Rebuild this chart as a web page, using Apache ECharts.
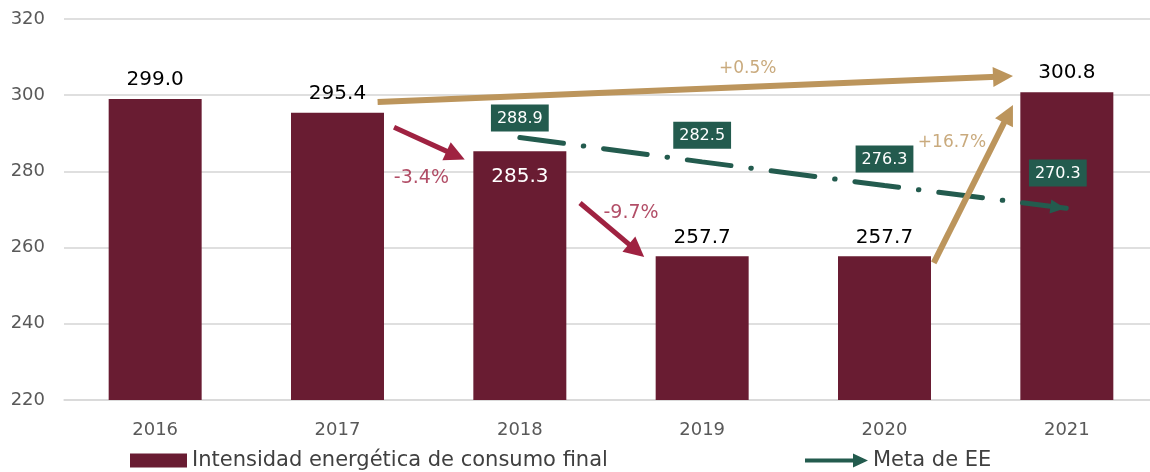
<!DOCTYPE html>
<html>
<head>
<meta charset="utf-8">
<script src="https://cdn.jsdelivr.net/npm/echarts@6/dist/echarts.min.js"></script>
<style>
  html, body { margin: 0; padding: 0; background: #fff; overflow: hidden; }
  /* the plot runs a few pixels past the right edge of the page */
  #chart { width: 1158px; height: 472px; }
</style>
</head>
<body>
<div id="chart"></div>
<script>
// Años y valores
const years = ['2016', '2017', '2018', '2019', '2020', '2021'];
const intensidad = [299.0, 295.4, 285.3, 257.7, 257.7, 300.8];
const metaEE = [null, null, 288.9, 282.5, 276.3, 270.3];

// Eje vertical
const yMin = 220;
const yMax = 320;
const yStep = 20;

// Flechas de variación: [posición de año, valor] de inicio y fin (centro de la punta)
const flechas = [
  { from: [1.31, 291.6], to: [1.648, 284.2] },
  { from: [2.33, 271.7], to: [2.64, 259.2] },
  { from: [1.22, 298.2], to: [4.65, 304.9] },
  { from: [4.27, 256.0], to: [4.68, 295.1] }
];
// Textos de variación: [posición de año, valor, texto]
const variaciones = [
  [1.46, 278.3, '-3.4%'],
  [2.61, 269.1, '-9.7%'],
  [3.25, 307.1, '+0.5%'],
  [4.37, 287.5, '+16.7%']
];

const GUINDA_OSC = '#691C32';
const GUINDA = '#9F2241';
const DORADO = '#BC955C';
const VERDE = '#235B4E';
const FONT = 'DejaVu Sans';

const chart = echarts.init(document.getElementById('chart'), null, { renderer: 'canvas' });

const barData = intensidad.map((v, i) => {
  if (i === 2) {
    return { value: v, label: { position: 'insideTop', color: '#fff', distance: 16 } };
  }
  return v;
});

const lineData = metaEE.map((v, i) => {
  if (v === null) return null;
  const item = { value: v };
  if (i === 2) item.label = { distance: 6 };
  if (i === metaEE.length - 1) {
    item.symbol = 'triangle';
    item.symbolSize = [14, 15];
    item.symbolRotate = -97;
    item.symbolOffset = [-9, -1];
    item.itemStyle = { opacity: 1 };
  }
  return item;
});

const legendText = { fontFamily: FONT, fontSize: 21, color: '#404040' };

const option = {
  animation: false,
  grid: { left: 64, right: 0, top: 19, bottom: 72 },
  legend: [
    {
      data: ['Intensidad energética de consumo final'],
      left: 125, top: 445,
      itemWidth: 57, itemHeight: 14, icon: 'rect',
      textStyle: legendText
    },
    {
      data: ['Meta de EE'],
      left: 800, top: 445,
      itemWidth: 63, itemHeight: 14,
      icon: 'path://M0,5L48,5L48,0L63,7L48,14L48,9L0,9Z',
      itemStyle: { color: VERDE },
      textStyle: legendText
    }
  ],
  xAxis: [
    {
      type: 'category',
      data: years,
      axisLine: { lineStyle: { color: '#d9d9d9', width: 1.5 } },
      axisTick: { show: false },
      axisLabel: { fontFamily: FONT, fontSize: 18, color: '#595959', margin: 21 }
    },
    { type: 'value', min: -0.5, max: 5.5, show: false }
  ],
  yAxis: {
    type: 'value',
    min: yMin, max: yMax, interval: yStep,
    axisLine: { show: false },
    axisTick: { show: false },
    axisLabel: { fontFamily: FONT, fontSize: 18, color: '#595959', margin: 19 },
    splitLine: { lineStyle: { color: '#d4d4d4', width: 1.5 } }
  },
  series: [
    {
      name: 'Intensidad energética de consumo final',
      type: 'bar',
      data: barData,
      barWidth: '51%',
      itemStyle: { color: GUINDA_OSC },
      label: {
        show: true, position: 'top', distance: 9,
        fontFamily: FONT, fontSize: 20, color: '#000',
        formatter: p => p.value.toFixed(1)
      },
      z: 2
    },
    {
      name: 'Meta de EE',
      type: 'line',
      data: lineData,
      symbol: 'circle',
      symbolSize: 0.1,
      itemStyle: { color: VERDE },
      lineStyle: { color: VERDE, width: 5, type: [44, 20, 0.5, 20], cap: 'round' },
      label: {
        show: true, position: 'top', distance: 13,
        backgroundColor: VERDE, color: '#fff',
        padding: [6, 6, 5, 6],
        fontFamily: FONT, fontSize: 16,
        formatter: p => p.value.toFixed(1)
      },
      z: 4
    },
    {
      type: 'lines',
      coordinateSystem: 'cartesian2d',
      xAxisIndex: 1, yAxisIndex: 0,
      symbol: ['none', 'triangle'],
      symbolSize: 20,
      data: flechas.map(f => {
        const c = f.to[1] < f.from[1] ? GUINDA : DORADO;
        return {
          coords: [f.from, f.to],
          lineStyle: { color: c, width: c === DORADO ? 6 : 5, opacity: 1 }
        };
      }),
      z: 5,
      silent: true
    },
    {
      type: 'scatter',
      xAxisIndex: 1, yAxisIndex: 0,
      symbolSize: 0,
      // Color y tamaño de cada texto según el signo
      data: variaciones.map(v => ({
        value: v,
        label: v[2][0] === '-'
          ? { color: GUINDA, fontSize: 19 }
          : { color: DORADO, fontSize: 17 }
      })),
      label: {
        show: true, position: 'inside',
        fontFamily: FONT,
        formatter: p => p.value[2]
      },
      z: 6,
      silent: true
    }
  ]
};

chart.setOption(option);
</script>
</body>
</html>
